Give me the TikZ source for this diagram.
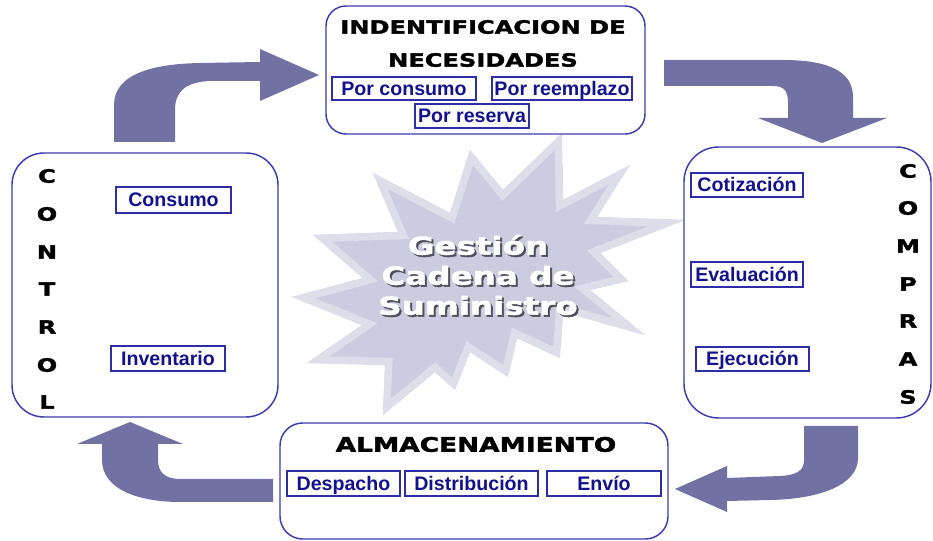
\documentclass[tikz,border=0pt]{standalone}
\usepackage{fontspec}
\setmainfont{Liberation Sans}
\newfontfamily\heavy[UprightFont={* Bold},FakeStretch=1.32,FakeBold=2]{DejaVu Sans}
\usetikzlibrary{fit}
\definecolor{arrowc}{RGB}{113,113,163}
\definecolor{boxline}{RGB}{60,60,175}
\definecolor{subline}{RGB}{45,45,165}
\definecolor{navy}{RGB}{18,18,140}
\definecolor{stardark}{RGB}{203,204,224}
\definecolor{starlight}{RGB}{222,222,235}
\definecolor{shadowc}{RGB}{80,80,90}
\begin{document}
\begin{tikzpicture}[x=0.75pt,y=-0.75pt,
  bigbox/.style={draw=boxline, line width=1.1pt, fill=white, inner sep=0pt},
  subbox/.style={draw=subline, line width=0.9pt, fill=white, inner sep=0pt,
    font=\fontsize{14.7}{16}\selectfont\bfseries, text=navy, text height=10.5pt, text depth=0pt},
  titletext/.style={font=\heavy\fontsize{13.7}{16}\selectfont, text=black, inner sep=0pt, text height=10pt, text depth=0pt},
  vlet/.style={font=\heavy\fontsize{13.7}{16}\selectfont, text=black, inner sep=0pt, text height=10pt, text depth=0pt},
  startext/.style={font=\heavy\fontsize{18.5}{22.5}\selectfont, align=center, inner sep=0pt},
  blockarrow/.style={fill=arrowc}
]
\useasboundingbox[fill=white] (0,0) rectangle (933,541);

% central star
\def\starpath{(373,173) -- (450,213) -- (470,150) -- (503,190) -- (562,133) -- (563,200) -- (630,165) -- (597,217) -- (685,220) -- (600,253) -- (628,281) -- (590,290) -- (645,335) -- (563,312) -- (560,358) -- (517,338) -- (508,377) -- (470,352) -- (455,390) -- (435,372) -- (383,415) -- (385,365) -- (307,363) -- (362,325) -- (292,297) -- (363,278) -- (313,235) -- (398,232) -- cycle}
\begin{scope}
  \clip \starpath;
  \fill[stardark] \starpath;
  \draw[starlight, line width=11pt, line join=miter] \starpath;
\end{scope}
\node[startext, text=shadowc] (gcsshadow) at (480,277) {Gestión\\Cadena de\\Suministro};
\node[startext, text=white] (gcs) at (478,275) {Gestión\\Cadena de\\Suministro};

% block arrows
\fill[blockarrow] (114,142) -- (114,105) .. controls (114,75) and (150,64) .. (200,63) -- (260,62) -- (260,49) -- (319,75) -- (260,101) -- (260,81) -- (210,81) .. controls (185,82) and (175,92) .. (175,110) -- (175,142) -- cycle;
\fill[blockarrow] (664,60) -- (783,60) .. controls (835,60) and (853,75) .. (853,97) -- (853,118) -- (887,118) -- (822,143) -- (758,118) -- (788,118) -- (788,103) .. controls (788,92) and (785,86) .. (773,86) -- (664,86) -- cycle;
\fill[blockarrow] (804,426) -- (858,426) -- (858,458) .. controls (858,485) and (820,499) .. (770,500) -- (727,501) -- (727,512) -- (675,489) -- (727,466) -- (727,478) -- (780,476) .. controls (798,475) and (804,470) .. (804,460) -- cycle;
\fill[blockarrow] (273,479) -- (180,479) .. controls (165,479) and (158,472) .. (158,460) -- (158,444) -- (183,444) -- (130,422) -- (77,444) -- (102,444) -- (102,460) .. controls (102,490) and (140,502) .. (180,502) -- (273,502) -- cycle;

% main boxes
\node[bigbox, rounded corners=15pt, fit={(326,6) (645,134)}] (ident) {};
\node[bigbox, rounded corners=24pt, fit={(12,153) (278,417)}] (control) {};
\node[bigbox, rounded corners=26pt, fit={(684,147) (931,418)}] (compras) {};
\node[bigbox, rounded corners=17pt, fit={(280,423) (668,539)}] (almac) {};

% identification
\node[titletext] (idt1) at (483,27) {INDENTIFICACION DE};
\node[titletext] (idt2) at (483,60) {NECESIDADES};
\node[subbox, minimum width=108pt, minimum height=17.25pt] (porconsumo) at (404,88.5) {Por consumo};
\node[subbox, minimum width=105pt, minimum height=17.25pt] (porreemplazo) at (562,88.5) {Por reemplazo};
\node[subbox, minimum width=85.5pt, minimum height=18pt] (porreserva) at (472,116) {Por reserva};

% control
\foreach \l/\yy [count=\i] in {C/176,O/214,N/252,T/289,R/327,O/365,L/402}
  \node[vlet] (ctl\i) at (47,\yy) {\l};
\node[subbox, minimum width=86.25pt, minimum height=19.5pt] (consumo) at (173.5,200) {Consumo};
\node[subbox, minimum width=85.5pt, minimum height=18.75pt] (inventario) at (168,358.5) {Inventario};

% compras
\foreach \l/\yy [count=\i] in {C/171,O/208,M/246,P/284,R/321,A/359,S/397}
  \node[vlet] (cmp\i) at (908,\yy) {\l};
\node[subbox, minimum width=84pt, minimum height=18pt] (cotizacion) at (747,185) {Cotización};
\node[subbox, minimum width=84pt, minimum height=18.75pt] (evaluacion) at (747,274.5) {Evaluación};
\node[subbox, minimum width=84.75pt, minimum height=18pt] (ejecucion) at (752.5,359) {Ejecución};

% almacenamiento
\node[titletext, font=\heavy\fontsize{15}{17}\selectfont, text height=10.9pt] (almt) at (476,444.5) {ALMACENAMIENTO};
\node[subbox, minimum width=84.75pt, minimum height=18.75pt] (despacho) at (343.5,483.5) {Despacho};
\node[subbox, minimum width=99.75pt, minimum height=18.75pt] (distribucion) at (471.5,483.5) {Distribución};
\node[subbox, minimum width=85.5pt, minimum height=18.75pt] (envio) at (604,483.5) {Envío};
\end{tikzpicture}
\end{document}
